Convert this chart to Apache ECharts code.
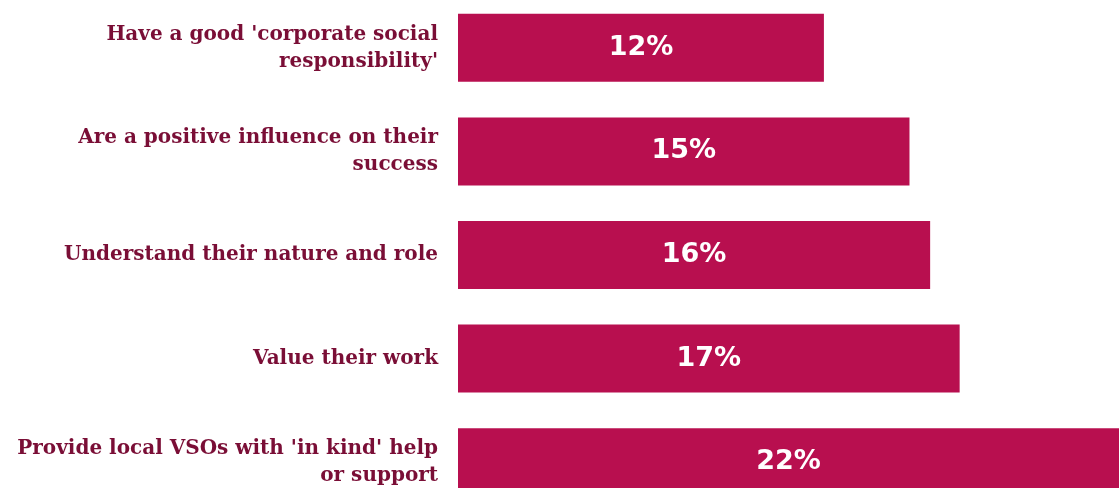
<!DOCTYPE html>
<html><head><meta charset="utf-8">
<script src="https://cdn.jsdelivr.net/npm/echarts@6/dist/echarts.min.js"></script>
<style>html,body{margin:0;padding:0;background:#fff}#c{width:1119px;height:488px}</style>
</head><body><div id="c"></div>
<script>
const categories = [
  "Have a good 'corporate social\nresponsibility'",
  "Are a positive influence on their\nsuccess",
  "Understand their nature and role",
  "Value their work",
  "Provide local VSOs with 'in kind' help\nor support"
];
const values = [12.4, 15.3, 16.0, 17.0, 22.4];
const valueLabels = ["12%", "15%", "16%", "17%", "22%"];

const chart = echarts.init(document.getElementById('c'), null, {renderer: 'canvas'});
chart.setOption({
  animation: false,
  grid: {left: 458, right: 0, top: -4, bottom: -26, containLabel: false, outerBoundsMode: 'none'},
  xAxis: {type: 'value', min: 0, max: 22.4, show: false},
  yAxis: {
    type: 'category', data: categories, inverse: true,
    axisLine: {show: false}, axisTick: {show: false},
    axisLabel: {
      margin: 20, align: 'right', color: '#7A0E36',
      fontFamily: 'DejaVu Serif', fontWeight: 'bold', fontSize: 20, lineHeight: 27
    }
  },
  series: [{
    type: 'bar', data: values, barWidth: 68,
    itemStyle: {color: '#B80F4F'},
    label: {
      show: true, position: 'inside', color: '#fff',
      fontFamily: 'DejaVu Sans', fontWeight: 'bold', fontSize: 27,
      formatter: p => valueLabels[p.dataIndex]
    }
  }]
});
</script></body></html>
